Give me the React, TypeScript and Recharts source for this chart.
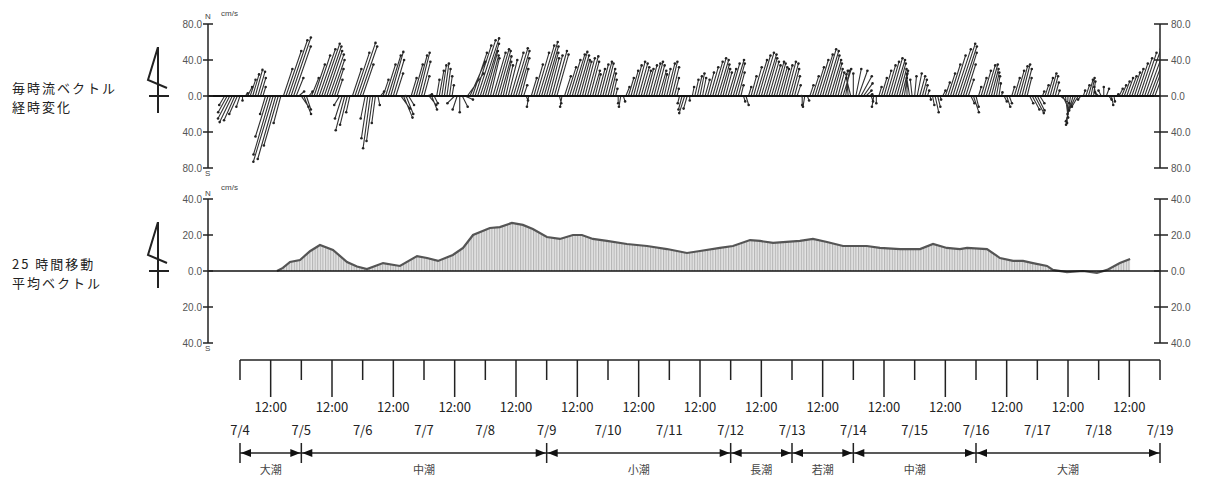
import { ComposedChart, Line, Area, Scatter, XAxis, YAxis, ReferenceLine } from 'recharts'

// hourly current vectors, first value is 7/4 -6h
const FIRST_HOUR = -6
// north component (cm/s)
const stickV = [
  -10, -18, -25, -29, -27, -20,
  -12, -5, 3, 10, 18,
  24, 29, 27, 20, 10,
  -20, -45, -65, -73, -70, -55,
  -30,
  30, 50, 62, 65, 55,
  20, 5, -12, -20, -15,
  5, 20,
  35, 45, 52, 58, 55, 50, 46, 40, 30, 18,
  -10, -25, -38, -32, -18,
  30, 48, 59, 55, 35,
  -25, -47, -58, -50, -30,
  -10, 5, 18,
  35, 45, 49, 40, 25,
  0, -14, -24, -20, -10,
  20, 35, 45, 48, 38, 22,
  2, -10, -15, -8,
  18, 28, 34, 36, 30, 22, 12,
  -8, -15, -18, -12, -4,
  25, 38, 48, 56, 62, 64, 58, 50, 45, 42, 48, 52,
  50, 44, 38, 34, 40, 48, 53, 50, 42, 30,
  12, -5, -12,
  20, 35, 48, 56, 60, 55, 48, 42, 45, 50, 46,
  -8, -12,
  22, 32, 40, 46, 49, 45, 40, 38, 42, 44, 38,
  28, 24, 30, 35, 38, 36, 30, 25, 18, 8, -8,
  -12, -6,
  10, 20, 28, 34, 38, 36, 32, 28, 30, 34, 36,
  38, 34, 28, 24, 30, 36, 38, 32, 20, 8,
  -8, -15, -19, -14, -5,
  10, 18, 22, 25, 20,
  18, 26, 32, 38, 42, 40, 35, 30, 26, 30, 36, 40, 36, 26, 12,
  -6, -10,
  10, 22, 32, 40, 45, 48, 46, 42, 38, 34, 38,
  36, 32, 30, 34, 38, 36, 30, 22, 12, 0, -10,
  -12, -5,
  12, 22, 32, 40, 46, 52, 50, 45, 40, 36, 30, 26, 28,
  30, 28, 24, 20, 25, 30, 28, 22, 14, 6, 2, -6,
  -12, -8,
  10, 20, 28, 34, 38, 42, 40, 36, 30, 25, 28, 24, 20,
  18, 22, 25, 22, 18, 12, 6, -4,
  -10, -18, -12,
  -4, 6, 15, 25, 35,
  45, 52, 58, 55, 48, 35, 18,
  -8, -18, -12,
  10, 20, 28, 34, 35, 30, 26, 22, 14,
  4, -6, -12, -8,
  10, 20, 28, 33, 35, 30, 20,
  -8, -15, -19, -16, -8,
  5, 12, 20, 25, 22, 15, 6,
  -8, -16, -24, -30, -32, -28, -20, -12, -4,
  6, 12, 18, 20, 16, 10, 4,
  6, 10, 8, -4, -10, -6,
  2, 8, 12, 16, 20,
  22, 26, 30, 36, 42, 48, 52, 54, 50, 46, 40,
]
// east component (cm/s)
const stickU = [
  -6, -10, -13, -14, -12, -9,
  -4, 0, 3, 5, 6,
  7, 8, 8, 6, 3,
  -6, -14, -19, -22, -20, -16,
  -8,
  10, 17, 21, 22, 19,
  8, 6, 8, 8, 5,
  4, 8,
  12, 15, 18, 20, 19, 17, 16, 14, 10, 6,
  -6, -8, -10, -8, -4,
  10, 16, 20, 19, 12,
  -5, -7, -8, -7, -4,
  2, 4, 6,
  11, 14, 14, 12, 8,
  8, 10, 10, 8, 6,
  6, 10, 12, 12, 10, 6,
  6, 8, 6, 4,
  3, 5, 5, 5, 4, 3, 2,
  -8, -5, 0, 6, 9,
  18, 17, 16, 18, 20, 21, 18, 14, 12, 10, 14, 15,
  14, 12, 9, 8, 10, 14, 16, 15, 12, 8,
  4, 2, -2,
  6, 10, 14, 17, 18, 16, 13, 11, 12, 14, 13,
  2, -2,
  7, 10, 12, 14, 14, 13, 11, 10, 11, 12, 10,
  8, 6, 8, 9, 10, 9, 8, 6, 4, 2, 0,
  -2, 2,
  4, 6, 8, 9, 10, 10, 9, 8, 8, 9, 10,
  10, 9, 8, 6, 7, 9, 9, 8, 5, 2,
  -2, -4, -6, -4, 0,
  2, 4, 5, 5, 4,
  5, 7, 9, 11, 12, 12, 10, 8, 7, 9, 10, 12, 10, 7, 3,
  2, 3,
  3, 6, 9, 12, 13, 14, 14, 12, 11, 10, 11,
  10, 9, 8, 9, 10, 10, 8, 6, 4, 2, 0,
  -2, 2,
  4, 7, 10, 12, 14, 15, 15, 13, 12, 10, 8, 7, 8,
  9, 4, -2, -5, 0, 6, 10, 12, 10, 6, 4, 2,
  -2, 0,
  3, 6, 8, 10, 11, 12, 12, 10, 8, 6, 4, 0, -3,
  -2, 2, 5, 6, 5, 3, 2, 1,
  2, 4, 3,
  1, 3, 5, 8, 11,
  14, 17, 19, 18, 15, 11, 6,
  4, 6, 3,
  3, 6, 8, 10, 10, 8, 6, 4, 2,
  1, 3, 4, 3,
  3, 6, 8, 9, 9, 8, 5,
  4, 8, 10, 8, 5,
  2, 4, 6, 7, 6, 4, 2,
  10, 7, 3, -1, -5, -8, -9, -7, -3,
  2, 4, 5, 4, 2, -2, -4,
  -3, 0, 3, 3, 2, 1,
  2, 4, 5, 6, 7,
  8, 9, 10, 12, 14, 16, 18, 20, 19, 17, 15,
]

// 25 hour moving average (north, cm/s)
const meanHours = [
  14.5, 16.8, 19.6, 23.5, 27.4, 31.3, 36.4, 41.9, 45.8, 49.7, 56, 62.6, 69.3, 73.2, 77.5, 83.3,
  87.3, 91.2, 97.8, 101.7, 106.4, 110.7, 114.6, 120.1, 125.2, 130.3, 133.8, 138.1, 143.6, 151.4,
  159.3, 167.1, 174.9, 180, 187.8, 192.9, 199.6, 203.5, 208.6, 219.1, 224.2, 229.7, 236, 245.3,
  250.4, 258.3, 266.1, 271.2, 276.6, 281.7, 284.5, 292.3, 297.4, 302.5, 306.4, 310.3, 315.8,
  318.1, 323.6, 329.9, 335.3, 339.3, 344.3, 348.3,
]
const meanValues = [
  0, 1.7, 5, 6.1, 11, 14.4, 11.7, 5, 2.5, 1.1, 4.4, 2.8, 8.3, 7.2, 5.6, 8.9,
  12.8, 20, 23.9, 24.4, 26.7, 25.6, 23.3, 18.9, 17.8, 20, 20, 17.8, 16.7, 15,
  13.9, 12.2, 10, 11.1, 12.8, 13.9, 17.2, 16.7, 15.6, 16.7, 17.8, 16.1, 13.9, 13.9,
  12.8, 12.2, 12.2, 15, 12.8, 12.2, 12.8, 12.2, 7.2, 5.6, 5.6, 4.4, 2.8,
  0.6, -0.6, 0, -1.1, 0.6, 4.4, 6.7,
]

const dayLabels = ['7/4', '7/5', '7/6', '7/7', '7/8', '7/9', '7/10', '7/11', '7/12', '7/13', '7/14', '7/15', '7/16', '7/17', '7/18', '7/19']
const noonLabel = '12:00'
const tideBounds = [0, 24, 120, 192, 216, 240, 288, 360]
const tideNames = ['大潮', '中潮', '小潮', '長潮', '若潮', '中潮', '大潮']
const vecTicks = [-80, -40, 0, 40, 80]
const meanTicks = [-40, -20, 0, 20, 40]

const W = 1205
const PLOT_L = 208
const PLOT_R = 1160
const X_DOMAIN: [number, number] = [-12.5, 360]
const VEC_TOP = 24
const VEC_BOTTOM = 168
const pxPerHour = (PLOT_R - PLOT_L) / (X_DOMAIN[1] - X_DOMAIN[0])
const pxPerCm = (VEC_BOTTOM - VEC_TOP) / 160
const U_TO_HOURS = pxPerCm / pxPerHour

const stickPath: { x: number; y: number }[] = []
const stickTips: { x: number; y: number }[] = []
stickV.forEach((v, i) => {
  const t = FIRST_HOUR + i
  const tipX = t + (stickU[i] ?? 0) * U_TO_HOURS
  stickPath.push({ x: t, y: 0 }, { x: tipX, y: v }, { x: t, y: 0 })
  stickTips.push({ x: tipX, y: v })
})

const meanData = meanHours.map((h, i) => ({ h, m: meanValues[i] }))

const timeTicks: number[] = []
dayLabels.forEach((_d, i) => {
  timeTicks.push(i * 24)
  if (i < dayLabels.length - 1) timeTicks.push(i * 24 + 12)
})

// tide row chart: y is a 0..47 band, arrow line at 20
const TIDE_Y = 20
const tideArrows: { x: number; y: number; dir: number }[] = []
const tideLabelPts: { x: number; y: number; name: string }[] = []
tideNames.forEach((name, i) => {
  tideArrows.push({ x: tideBounds[i], y: TIDE_Y, dir: -1 }, { x: tideBounds[i + 1], y: TIDE_Y, dir: 1 })
  tideLabelPts.push({ x: (tideBounds[i] + tideBounds[i + 1]) / 2, y: 37, name })
})

const AXIS = { stroke: '#222', strokeWidth: 1.5 }
const NUM_FONT = '"Liberation Sans", Arial, sans-serif'
const JP_FONT = '"Noto Sans CJK JP", sans-serif'

function LeftTick(props: any) {
  const { x, y, payload } = props
  const ax = x + 10
  return (
    <g>
      <line x1={ax - 5} x2={ax + 5} y1={y} y2={y} stroke="#222" strokeWidth={1.5} />
      <text x={ax - 6} y={y} dy={3.5} textAnchor="end" fontSize={10} fill="#555" fontFamily={NUM_FONT}>
        {Math.abs(payload.value).toFixed(1)}
      </text>
    </g>
  )
}

function RightTick(props: any) {
  const { x, y, payload } = props
  const ax = x - 10
  return (
    <g>
      <line x1={ax - 6} x2={ax + 8} y1={y} y2={y} stroke="#222" strokeWidth={1.5} />
      <text x={ax + 11} y={y} dy={3.5} textAnchor="start" fontSize={10} fill="#555" fontFamily={NUM_FONT}>
        {Math.abs(payload.value).toFixed(1)}
      </text>
    </g>
  )
}

function TimeTick(props: any) {
  const { x, y, payload } = props
  const h = payload.value
  const isDay = h % 24 === 0
  return (
    <g>
      <line x1={x} x2={x} y1={y} y2={y + (isDay ? 20 : 37)} stroke="#222" strokeWidth={1.5} />
      <text x={x} y={isDay ? y + 75 : y + 52} textAnchor="middle" fontSize={13} fill="#222" fontFamily={JP_FONT}>
        {isDay ? dayLabels[h / 24] : noonLabel}
      </text>
    </g>
  )
}

function TipDot(props: any) {
  const { cx, cy } = props
  return <circle cx={cx} cy={cy} r={1.3} fill="#222" />
}

function TideArrow(props: any) {
  const { cx, cy, payload } = props
  const d = payload.dir
  const tip = cx - d * 1
  const back = cx - d * 11
  return <polygon points={`${tip},${cy} ${back},${cy - 4} ${back},${cy + 4}`} fill="#111" />
}

function TideLabel(props: any) {
  const { cx, cy, payload } = props
  return (
    <text x={cx} y={cy} dy={4} textAnchor="middle" fontSize={11} fill="#444" fontFamily={JP_FONT}>
      {payload.name}
    </text>
  )
}

function NorthMark({ top }: { top: number }) {
  return (
    <svg width={40} height={70} style={{ position: 'absolute', left: 140, top }}>
      <line x1={18} y1={0} x2={18} y2={66} stroke="#222" strokeWidth={2} />
      <line x1={9} y1={49} x2={29} y2={49} stroke="#222" strokeWidth={2} />
      <polyline points="18,0 8,33 27,41" fill="none" stroke="#222" strokeWidth={2} />
    </svg>
  )
}

const small: React.CSSProperties = { position: 'absolute', fontSize: 8, fontFamily: NUM_FONT, color: '#444', lineHeight: '8px' }
const jpLabel: React.CSSProperties = {
  position: 'absolute', left: 12, fontSize: 13, letterSpacing: 2, lineHeight: '15px',
  fontFamily: JP_FONT, color: '#222', whiteSpace: 'nowrap',
}

export default function App() {
  return (
    <div style={{ position: 'absolute', left: 0, top: 0, width: W, height: 480, background: '#fff', overflow: 'hidden' }}>
      <div style={{ ...jpLabel, top: 80 }}>毎時流ベクトル</div>
      <div style={{ ...jpLabel, top: 99 }}>経時変化</div>
      <div style={{ ...jpLabel, top: 256 }}>25 時間移動</div>
      <div style={{ ...jpLabel, top: 275 }}>平均ベクトル</div>
      <NorthMark top={47} />
      <NorthMark top={222} />

      <div style={{ ...small, left: 205, top: 13 }}>N</div>
      <div style={{ ...small, left: 205, top: 170 }}>S</div>
      <div style={{ ...small, left: 221, top: 10 }}>cm/s</div>
      <div style={{ ...small, left: 205, top: 190 }}>N</div>
      <div style={{ ...small, left: 205, top: 345 }}>S</div>
      <div style={{ ...small, left: 221, top: 184 }}>cm/s</div>

      <div style={{ position: 'absolute', left: 0, top: 0 }}>
        <ComposedChart width={W} height={190}
          margin={{ top: VEC_TOP, bottom: 190 - VEC_BOTTOM, left: PLOT_L - 60, right: W - PLOT_R - 40 }}>
          <XAxis type="number" dataKey="x" domain={X_DOMAIN} allowDataOverflow hide />
          <YAxis yAxisId="l" type="number" width={60} domain={[-80, 80]} ticks={vecTicks} interval={0}
            allowDataOverflow tickLine={false} tickSize={0} tickMargin={10} axisLine={AXIS} tick={LeftTick} />
          <YAxis yAxisId="r" orientation="right" type="number" width={40} domain={[-80, 80]} ticks={vecTicks}
            allowDataOverflow interval={0} tickLine={false} tickSize={0} tickMargin={10} axisLine={AXIS} tick={RightTick} />
          <Line yAxisId="r" data={stickTips} dataKey="y" stroke="none" dot={false} isAnimationActive={false} />
          <Line yAxisId="l" data={stickPath} dataKey="y" type="linear" stroke="#1c1c1c" strokeWidth={1.1}
            strokeOpacity={0.9} dot={false} isAnimationActive={false} />
          <Scatter yAxisId="l" data={stickTips} dataKey="y" shape={TipDot} isAnimationActive={false} />
          <ReferenceLine yAxisId="l" y={0} stroke="#111" strokeWidth={2} />
        </ComposedChart>
      </div>

      <div style={{ position: 'absolute', left: 0, top: 180 }}>
        <ComposedChart width={W} height={180} margin={{ top: 19, bottom: 17, left: PLOT_L - 60, right: W - PLOT_R - 40 }}>
          <defs>
            <pattern id="hatch" width={2.6} height={4} patternUnits="userSpaceOnUse">
              <rect width={2.6} height={4} fill="#e4e4e4" />
              <line x1={0.6} y1={0} x2={0.6} y2={4} stroke="#a0a0a0" strokeWidth={0.8} />
            </pattern>
          </defs>
          <XAxis type="number" dataKey="h" domain={X_DOMAIN} allowDataOverflow hide />
          <YAxis yAxisId="l" type="number" width={60} domain={[-40, 40]} ticks={meanTicks} interval={0}
            allowDataOverflow tickLine={false} tickSize={0} tickMargin={10} axisLine={AXIS} tick={LeftTick} />
          <YAxis yAxisId="r" orientation="right" type="number" width={40} domain={[-40, 40]} ticks={meanTicks}
            allowDataOverflow interval={0} tickLine={false} tickSize={0} tickMargin={10} axisLine={AXIS} tick={RightTick} />
          <Line yAxisId="r" data={meanData} dataKey="m" stroke="none" dot={false} isAnimationActive={false} />
          <Area yAxisId="l" data={meanData} dataKey="m" type="linear" baseValue={0} stroke="#555"
            strokeWidth={2.2} fill="url(#hatch)" fillOpacity={1} isAnimationActive={false} />
          <ReferenceLine yAxisId="l" y={0} stroke="#111" strokeWidth={1.6} />
        </ComposedChart>
      </div>

      <div style={{ position: 'absolute', left: 0, top: 350 }}>
        <ComposedChart width={W} height={95} margin={{ top: 9, bottom: 0, left: 240, right: W - 1160 }}>
          <XAxis type="number" dataKey="x" orientation="bottom" height={85} domain={[0, 360]} ticks={timeTicks}
            interval={0} tickLine={false} tickSize={0} tickMargin={0} axisLine={AXIS} tick={TimeTick} allowDataOverflow />
          <YAxis type="number" domain={[0, 1]} hide />
          <Line data={[{ x: 0, y: 0 }, { x: 360, y: 0 }]} dataKey="y" stroke="none" dot={false} isAnimationActive={false} />
        </ComposedChart>
      </div>

      <div style={{ position: 'absolute', left: 0, top: 433 }}>
        <ComposedChart width={W} height={47} margin={{ top: 0, bottom: 0, left: 240, right: W - 1160 }}>
          <XAxis type="number" dataKey="x" domain={[0, 360]} allowDataOverflow hide />
          <YAxis type="number" domain={[0, 47]} reversed allowDataOverflow hide />
          {tideNames.map((n, i) => (
            <ReferenceLine key={'s' + i} segment={[{ x: tideBounds[i], y: TIDE_Y }, { x: tideBounds[i + 1], y: TIDE_Y }]}
              stroke="#222" strokeWidth={1.5} />
          ))}
          {tideBounds.map((b, i) => (
            <ReferenceLine key={'b' + i} segment={[{ x: b, y: TIDE_Y - 10 }, { x: b, y: TIDE_Y + 10 }]}
              stroke="#222" strokeWidth={1.5} />
          ))}
          <Scatter data={tideArrows} dataKey="y" shape={TideArrow} isAnimationActive={false} />
          <Scatter data={tideLabelPts} dataKey="y" shape={TideLabel} isAnimationActive={false} />
        </ComposedChart>
      </div>
    </div>
  )
}
